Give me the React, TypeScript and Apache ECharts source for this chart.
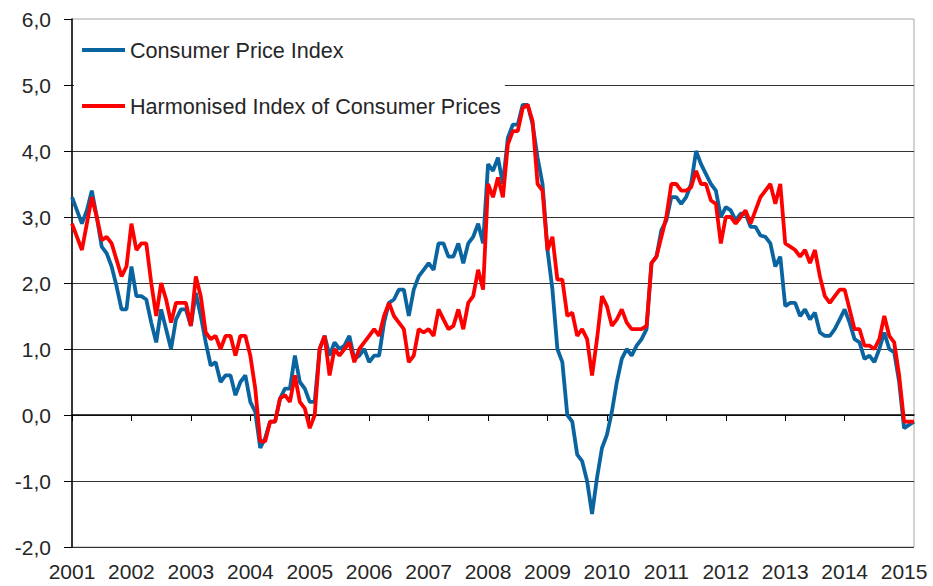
import React, { useEffect, useRef } from "react";
import * as echarts from "echarts";

// Year tick labels (January of each year)
const years = ["2001", "2002", "2003", "2004", "2005", "2006", "2007", "2008", "2009", "2010", "2011", "2012", "2013", "2014", "2015"];

// Annual change, %, monthly from Jan 2001 to Mar 2015
const cpiValues = [
  3.3, 3.1, 2.9, 3.1, 3.4, 3.0, 2.55, 2.45, 2.25, 1.95, 1.6, 1.6,
  2.25, 1.8, 1.8, 1.75, 1.4, 1.1, 1.6, 1.3, 1.0, 1.45, 1.6, 1.6,
  1.35, 1.85, 1.5, 1.1, 0.75, 0.8, 0.5, 0.6, 0.6, 0.3, 0.5, 0.6,
  0.2, 0.05, -0.5, -0.35, -0.1, -0.1, 0.25, 0.4, 0.4, 0.9, 0.5, 0.4,
  0.2, 0.2, 1.0, 1.2, 0.9, 1.1, 1.0, 1.05, 1.2, 0.85, 0.9, 1.0,
  0.8, 0.9, 0.9, 1.4, 1.7, 1.75, 1.9, 1.9, 1.5, 1.9, 2.1, 2.2,
  2.3, 2.2, 2.6, 2.6, 2.4, 2.4, 2.6, 2.3, 2.6, 2.7, 2.9, 2.6,
  3.8, 3.7, 3.9, 3.5, 4.2, 4.4, 4.4, 4.7, 4.7, 4.4, 3.9, 3.5,
  2.5, 1.9, 1.0, 0.8, 0.0, -0.1, -0.6, -0.7, -1.0, -1.5, -0.95, -0.5,
  -0.3, 0.05, 0.5, 0.85, 1.0, 0.9, 1.05, 1.15, 1.3, 2.3, 2.4, 2.8,
  2.95, 3.3, 3.3, 3.2, 3.3, 3.5, 4.0, 3.8, 3.65, 3.5, 3.4, 3.0,
  3.15, 3.1, 2.95, 3.05, 3.05, 2.85, 2.85, 2.72, 2.7, 2.6, 2.25, 2.4,
  1.65, 1.7, 1.7, 1.5, 1.6, 1.45, 1.55, 1.25, 1.2, 1.2, 1.3, 1.45,
  1.6, 1.4, 1.15, 1.1, 0.85, 0.9, 0.8, 1.0, 1.25, 1.0, 0.95, 0.5,
  -0.2, -0.15, -0.1,
];

const hicpValues = [
  2.9, 2.7, 2.5, 2.9, 3.3, 3.0, 2.65, 2.7, 2.6, 2.35, 2.1, 2.25,
  2.9, 2.5, 2.6, 2.6, 2.0, 1.5, 2.0, 1.75, 1.4, 1.7, 1.7, 1.7,
  1.35, 2.1, 1.8, 1.25, 1.15, 1.2, 1.0, 1.2, 1.2, 0.9, 1.2, 1.2,
  0.9, 0.4, -0.4, -0.4, -0.1, -0.1, 0.25, 0.3, 0.2, 0.6, 0.2, 0.1,
  -0.2, 0.0, 1.0, 1.2, 0.6, 1.0, 0.9, 1.0, 1.1, 0.8, 1.0, 1.1,
  1.2, 1.3, 1.2, 1.5, 1.7, 1.5, 1.4, 1.3, 0.8, 0.9, 1.3, 1.25,
  1.3, 1.2, 1.6, 1.45, 1.3, 1.35, 1.6, 1.3, 1.7, 1.8, 2.2, 1.9,
  3.5, 3.3, 3.6, 3.3, 4.1, 4.3, 4.3, 4.65, 4.7, 4.45, 3.5, 3.4,
  2.5, 2.7, 2.05, 2.05, 1.5, 1.55, 1.2, 1.3, 1.15, 0.6, 1.15, 1.8,
  1.65, 1.35, 1.45, 1.6, 1.4, 1.3, 1.3, 1.3, 1.35, 2.3, 2.4, 2.7,
  3.0, 3.5, 3.5, 3.4, 3.4, 3.45, 3.7, 3.5, 3.5, 3.25, 3.2, 2.6,
  3.0, 3.0, 2.9, 3.0, 3.1, 2.9, 3.1, 3.3, 3.4, 3.5, 3.2, 3.5,
  2.6, 2.55, 2.5, 2.4, 2.5, 2.3, 2.5, 2.1, 1.8, 1.7, 1.8, 1.9,
  1.9, 1.6, 1.3, 1.3, 1.05, 1.05, 1.0, 1.15, 1.5, 1.2, 1.1, 0.6,
  -0.1, -0.1, -0.1,
];

const seriesNames = ["Consumer Price Index", "Harmonised Index of Consumer Prices"];

const months = ["01", "02", "03", "04", "05", "06", "07", "08", "09", "10", "11", "12"];
const categories: string[] = [];
years.forEach((y) => months.forEach((m) => categories.push(y + "-" + m)));
const monthCats = categories.slice(0, cpiValues.length);

const FONT = "'Liberation Sans', Arial, sans-serif";
const TEXT = "#262626";

export default function App() {
  const ref = useRef<HTMLDivElement>(null);
  useEffect(() => {
    if (!ref.current) return;
    const chart = echarts.init(ref.current, undefined, { renderer: "svg" });
    chart.setOption({
      animation: false,
      backgroundColor: "#ffffff",
      textStyle: { fontFamily: FONT },
      grid: {
        left: 72,
        right: 19,
        top: 19,
        bottom: 39,
        show: true,
        borderColor: "#a6a6a6",
        borderWidth: 1,
        backgroundColor: "transparent",
      },
      legend: {
        orient: "vertical",
        left: 74,
        top: 24,
        z: 1,
        padding: [14, 4, 12, 8],
        backgroundColor: "#ffffff",
        icon: "rect",
        itemWidth: 43,
        itemHeight: 4,
        itemGap: 32,
        textStyle: { fontSize: 21.6, color: TEXT, fontFamily: FONT, lineHeight: 24 },
        data: seriesNames,
      },
      xAxis: {
        type: "category",
        data: monthCats,
        boundaryGap: false,
        axisLine: { lineStyle: { color: "#000", width: 1.5 } },
        axisTick: {
          length: 6,
          interval: (index: number) => index % 12 === 0,
          lineStyle: { color: "#000" },
        },
        axisLabel: {
          interval: (index: number) => index % 12 === 0,
          formatter: (v: string) => v.slice(0, 4),
          fontSize: 21,
          color: TEXT,
          fontFamily: FONT,
          margin: 14,
        },
        splitLine: { show: false },
      },
      yAxis: {
        type: "value",
        min: -2,
        max: 6,
        interval: 1,
        axisLine: { show: true, lineStyle: { color: "#000", width: 1.5 } },
        axisTick: { show: true, length: 8, lineStyle: { color: "#000" } },
        axisLabel: {
          formatter: (v: number) => v.toFixed(1).replace(".", ","),
          fontSize: 21,
          color: TEXT,
          fontFamily: FONT,
          margin: 21,
        },
        splitLine: {
          show: true,
          showMaxLine: false,
          lineStyle: { color: "#333333", width: 1 },
        },
      },
      series: [
        {
          name: seriesNames[0],
          type: "line",
          data: cpiValues,
          showSymbol: false,
          symbol: "none",
          lineStyle: { color: "#0a64a0", width: 3.8 },
          itemStyle: { color: "#0a64a0" },
          z: 2,
        },
        {
          name: seriesNames[1],
          type: "line",
          data: hicpValues,
          showSymbol: false,
          symbol: "none",
          lineStyle: { color: "#ff0000", width: 3.8 },
          itemStyle: { color: "#ff0000" },
          z: 3,
        },
      ],
    });
    return () => chart.dispose();
  }, []);
  return (
    <div
      ref={ref}
      style={{ position: "fixed", left: 0, top: 0, width: 933, height: 586, background: "#fff" }}
    />
  );
}
